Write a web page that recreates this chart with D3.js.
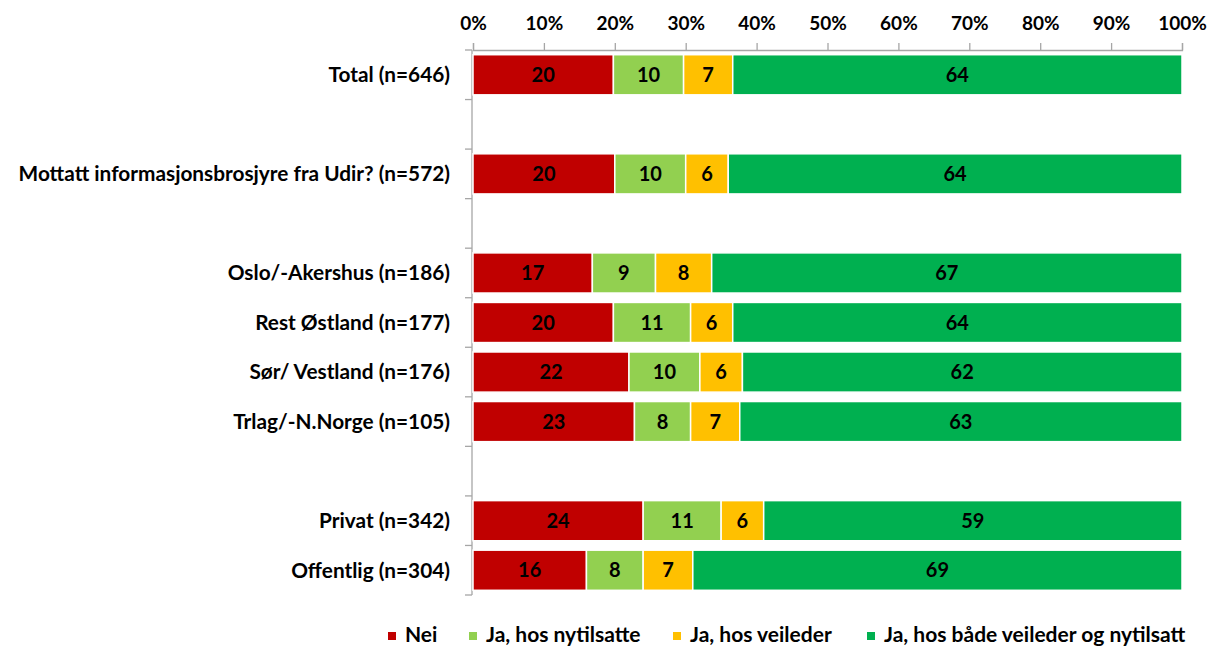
<!DOCTYPE html>
<html>
<head>
<meta charset="utf-8">
<script src="https://cdn.jsdelivr.net/npm/d3@7"></script>
<style>
  html, body { margin: 0; padding: 0; background: #fff; }
  svg { display: block; font-family: Lato, "Open Sans", sans-serif; font-weight: 700; }
</style>
</head>
<body>
<svg id="chart" width="1215" height="646"></svg>
<script>
// Row labels; empty strings are spacer rows between groups
const categories = [
  "Total (n=646)",
  "",
  "Mottatt informasjonsbrosjyre fra Udir? (n=572)",
  "",
  "Oslo/-Akershus (n=186)",
  "Rest Østland (n=177)",
  "Sør/ Vestland (n=176)",
  "Trlag/-N.Norge (n=105)",
  "",
  "Privat (n=342)",
  "Offentlig (n=304)"
];

const seriesNames = ["Nei", "Ja, hos nytilsatte", "Ja, hos veileder", "Ja, hos både veileder og nytilsatt"];
const seriesColors = ["#C00000", "#92D050", "#FFC000", "#00B050"];

// Percent per row (null = spacer row)
const nei        = [20, null, 20, null, 17, 20, 22, 23, null, 24, 16];
const nytilsatte = [10, null, 10, null, 9, 11, 10, 8, null, 11, 8];
const veileder   = [7, null, 6, null, 8, 6, 6, 7, null, 6, 7];
const begge      = [64, null, 64, null, 67, 64, 62, 63, null, 59, 69];

const tickValues = [0, 0.1, 0.2, 0.3, 0.4, 0.5, 0.6, 0.7, 0.8, 0.9, 1];

const seriesData = [nei, nytilsatte, veileder, begge];
const keys = seriesNames;
const rows = categories.map((c, i) => {
  const r = { idx: i, label: c, spacer: nei[i] === null };
  keys.forEach((k, j) => r[k] = seriesData[j][i] === null ? 0 : seriesData[j][i]);
  return r;
});

const svg = d3.select("#chart");
const margin = { left: 473, right: 33, top: 50, bottom: 51 };
const W = 1215, H = 646;

const x = d3.scaleLinear().domain([0, 1]).range([margin.left, W - margin.right]);
const y = d3.scaleBand().domain(d3.range(categories.length)).range([margin.top, H - margin.bottom]).paddingInner(0.19).paddingOuter(0.095);

// 100% stacked: each row normalised to its total
const stack = d3.stack().keys(keys).offset(d3.stackOffsetExpand);
const stacked = stack(rows.filter(r => !r.spacer));

// Percent axis along the top
const xAxis = d3.axisTop(x).tickValues(tickValues).tickFormat(d3.format(".0%")).tickSize(7).tickPadding(13);
const gx = svg.append("g").attr("transform", `translate(0,${margin.top})`).call(xAxis);
gx.select(".domain").attr("stroke", "#a6a6a6").attr("stroke-width", 1.3);
gx.selectAll(".tick line").attr("stroke", "#a6a6a6").attr("stroke-width", 1.3);
gx.selectAll(".tick text").attr("font-size", 19).attr("font-weight", 700).attr("fill", "#000").attr("font-family", "Lato, sans-serif");

// Category axis at left, with ticks between rows
const yEdge = d3.scaleLinear().domain([0, categories.length]).range([margin.top, H - margin.bottom]);
const gy = svg.append("g");
gy.append("line").attr("x1", margin.left - 1).attr("x2", margin.left - 1)
  .attr("y1", yEdge(0)).attr("y2", yEdge(categories.length))
  .attr("stroke", "#a6a6a6").attr("stroke-width", 1.3);
gy.selectAll("line.tk").data(d3.range(categories.length + 1)).join("line").attr("class", "tk")
  .attr("x1", margin.left - 8).attr("x2", margin.left - 1)
  .attr("y1", d => yEdge(d)).attr("y2", d => yEdge(d))
  .attr("stroke", "#a6a6a6").attr("stroke-width", 1.3);

gy.selectAll("text.cat").data(rows.filter(r => !r.spacer)).join("text").attr("class", "cat")
  .attr("x", margin.left - 23)
  .attr("y", d => y(d.idx) + y.bandwidth() / 2)
  .attr("dy", "0.35em")
  .attr("text-anchor", "end")
  .attr("font-size", 20.8)
  .attr("fill", "#000")
  .text(d => d.label);

// Bars
const layers = svg.append("g").selectAll("g").data(stacked).join("g")
  .attr("fill", (d, i) => seriesColors[i]);

layers.selectAll("rect").data(d => d).join("rect")
  .attr("x", d => x(d[0]))
  .attr("width", d => x(d[1]) - x(d[0]))
  .attr("y", d => y(d.data.idx))
  .attr("height", y.bandwidth())
  .attr("stroke", "#fff")
  .attr("stroke-width", 1.5);

// Value labels
layers.selectAll("text").data((d) => d.map(v => ({ v, key: d.key }))).join("text")
  .attr("x", d => (x(d.v[0]) + x(d.v[1])) / 2)
  .attr("y", d => y(d.v.data.idx) + y.bandwidth() / 2)
  .attr("dy", "0.35em")
  .attr("text-anchor", "middle")
  .attr("font-size", 20)
  .attr("fill", "#000")
  .text(d => d.v.data[d.key]);

// Legend
const legendX = [388, 469, 673, 867];
const lg = svg.append("g").attr("transform", "translate(0,635)");
const items = lg.selectAll("g").data(seriesNames).join("g")
  .attr("transform", (d, i) => `translate(${legendX[i]},0)`);
items.append("rect").attr("x", 0).attr("y", -3).attr("width", 8).attr("height", 8)
  .attr("fill", (d, i) => seriesColors[i]);
items.append("text").attr("x", 17).attr("dy", "0.35em").attr("font-size", 21).attr("fill", "#000").text(d => d);
</script>
</body>
</html>
